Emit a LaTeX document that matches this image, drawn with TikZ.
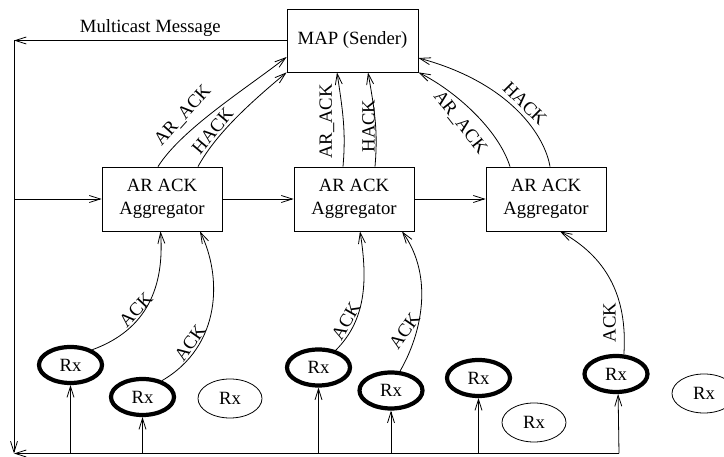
\documentclass[tikz,border=0pt]{standalone}
\usepackage{fontspec}
\setmainfont{Liberation Serif}
\usetikzlibrary{arrows.meta,shapes.geometric}
\begin{document}
\begin{tikzpicture}[x=1pt,y=1pt,
  font=\fontsize{18.7}{23}\selectfont,
  line width=0.8pt,
  arr/.style={-{Straight Barb[length=11pt,width=7pt,line width=0.8pt]}},
  boxnode/.style={draw,rectangle,inner sep=0pt,align=center},
  rxthick/.style={draw,ellipse,line width=4.2pt,minimum width=63pt,minimum height=36pt,inner sep=0pt},
  rxthin/.style={draw,ellipse,line width=0.8pt,minimum width=64pt,minimum height=39pt,inner sep=0pt},
  lbl/.style={inner sep=0pt}]
\useasboundingbox (0,0) rectangle (724,457);

% boxes
\node[boxnode,minimum width=131pt,minimum height=63pt] (map) at (352.5,416.5) {MAP (Sender)};
\node[boxnode,minimum width=120pt,minimum height=64pt] (agg1) at (162,258) {AR ACK\\Aggregator};
\node[boxnode,minimum width=120pt,minimum height=64pt] (agg2) at (354,258) {AR ACK\\Aggregator};
\node[boxnode,minimum width=120pt,minimum height=64pt] (agg3) at (546,258) {AR ACK\\Aggregator};

% receivers
\node[rxthick] (rx1) at (70.5,92) {Rx};
\node[rxthick] (rx2) at (142.5,60) {Rx};
\node[rxthin]  (rx3) at (230,58.5) {Rx};
\node[rxthick] (rx4) at (318.5,89.5) {Rx};
\node[rxthick] (rx5) at (391,66.5) {Rx};
\node[rxthick] (rx6) at (478.5,79) {Rx};
\node[rxthin]  (rx7) at (534,34.5) {Rx};
\node[rxthick] (rx8) at (616,83) {Rx};
\node[rxthin]  (rx9) at (704,63.5) {Rx};

% frame coordinates
\coordinate (tl) at (14,416.5);
\coordinate (lj) at (14,258);
\coordinate (bl) at (14,3.5);
\coordinate (br) at ([xshift=3pt]rx8.south |- bl);

% multicast distribution
\draw[arr] (map.west) -- (tl) node[lbl,pos=0.5,anchor=base,yshift=8pt] (mm) {Multicast Message};
\draw[arr] (tl) -- (bl);
\draw[arr] (br) -- (bl);
\draw[arr] (lj) -- (agg1.west);
\draw[arr] (agg1.east) -- (agg2.west);
\draw[arr] (agg2.east) -- (agg3.west);
\foreach \r in {rx1,rx2,rx4,rx5,rx6}
  \draw[arr] (\r.south |- bl) -- (\r.south);
\draw[arr] (br) -- (rx8.-84);

% ACK curves
\draw[arr] (rx1.35) .. controls +(55,20) and +(4,-55) .. ([xshift=-1.5pt]agg1.south);
\draw[arr] (rx2.40) .. controls +(60,35) and +(22,-45) .. ([xshift=38pt]agg1.south);
\draw[arr] (rx4.45) .. controls +(30,30) and +(8,-50) .. ([xshift=6pt]agg2.south);
\draw[arr] (rx5.65) .. controls +(22,38) and +(32,-45) .. ([xshift=48pt]agg2.south);
\draw[arr] (rx8.68) .. controls +(4,60) and +(45,-25) .. ([xshift=14pt]agg3.south);

\node[lbl,rotate=47] (la) at (136,147.5) {ACK};
\node[lbl,rotate=55] (lb) at (190,114) {ACK};
\node[lbl,rotate=60] (lc) at (346,136) {ACK};
\node[lbl,rotate=55] (ld) at (404.5,126) {ACK};
\node[lbl,rotate=90] (le) at (609.5,134.5) {ACK};

% AR_ACK / HACK curves to MAP
\draw[arr] ([xshift=-4pt]agg1.north) .. controls +(24,38) and +(-39.4,-31) .. ([yshift=-16.5pt]map.west);
\draw[arr] ([xshift=36pt]agg1.north) .. controls +(19,35) and +(-31,-26) .. (map.south west);
\draw[arr] ([xshift=-11pt]agg2.north) .. controls +(3,35) and +(6,-40) .. ([xshift=-15.5pt]map.south);
\draw[arr] ([xshift=21pt]agg2.north) .. controls +(3,35) and +(7,-40) .. ([xshift=15.5pt]map.south);
\draw[arr] ([xshift=-36pt]agg3.north) .. controls +(-12,38) and +(36,-18) .. (map.south east);
\draw[arr] ([xshift=4pt]agg3.north) .. controls +(-5,30) and +(93,-25) .. ([yshift=-17.5pt]map.east);

\node[lbl,rotate=48] (lf) at (183,341.5) {AR\_ACK};
\node[lbl,rotate=50] (lg) at (212.5,326) {HACK};
\node[lbl,rotate=90] (lh) at (327,335.5) {AR\_ACK};
\node[lbl,rotate=90] (li) at (368.5,331) {HACK};
\node[lbl,rotate=-52] (lj2) at (460,334.5) {AR\_ACK};
\node[lbl,rotate=-45] (lk) at (525,353.5) {HACK};
\end{tikzpicture}
\end{document}
